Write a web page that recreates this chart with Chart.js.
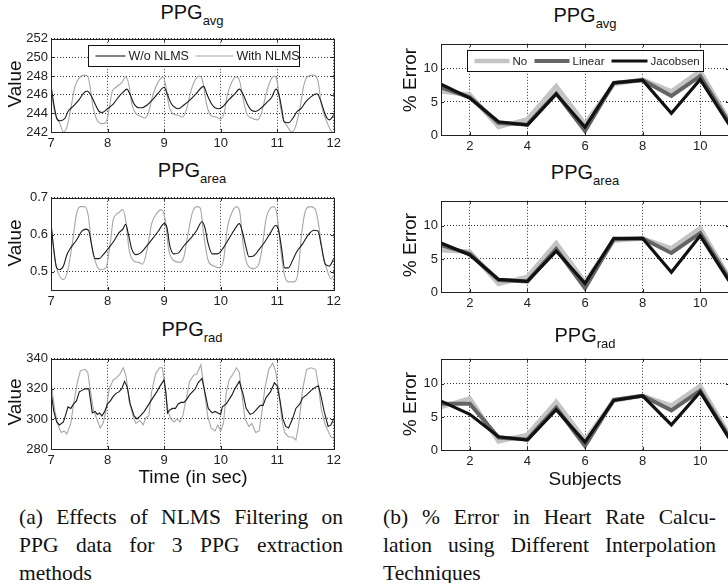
<!DOCTYPE html>
<html lang="en">
<head>
<meta charset="UTF-8">
<title>PPG NLMS / Interpolation</title>
<script src="https://cdn.jsdelivr.net/npm/chart.js@4"></script>
<style>
    html, body { margin: 0; padding: 0; background: #fff; }
    body { width: 728px; height: 583px; overflow: hidden; position: relative;
           font-family: "Liberation Sans", Arial, sans-serif; color: #111; }
    canvas { position: absolute; }
    .ttl { position: absolute; font-size: 20px; line-height: 20px; white-space: nowrap; transform: translateX(-50%); }
    .ttl span { font-size: 13px; position: relative; top: 6px; }
    .ylab { position: absolute; font-size: 19px; line-height: 19px; white-space: nowrap;
            transform: translate(-50%, -50%) rotate(-90deg); }
    .xlab { position: absolute; font-size: 19px; line-height: 19px; white-space: nowrap; transform: translateX(-50%); }
    .cap { position: absolute; font-family: "Liberation Serif", "DejaVu Serif", serif; font-size: 21.5px; color: #111; }
    .cap div { height: 28px; line-height: 28px; white-space: nowrap; text-align: justify; text-align-last: justify; }
    .cap div.last { text-align-last: left; }
</style>
</head>
<body>

<canvas id="cAvg"  width="345" height="126" style="left:0;top:28px"></canvas>
<canvas id="cArea" width="345" height="125" style="left:0;top:187px"></canvas>
<canvas id="cRad"  width="345" height="123" style="left:0;top:348px"></canvas>
<canvas id="eAvg"  width="345" height="124" style="left:390px;top:33px"></canvas>
<canvas id="eArea" width="345" height="124" style="left:390px;top:190px"></canvas>
<canvas id="eRad"  width="345" height="124" style="left:390px;top:348px"></canvas>

<div class="ttl" style="left:192px;top:2px">PPG<span>avg</span></div>
<div class="ttl" style="left:192px;top:160px">PPG<span>area</span></div>
<div class="ttl" style="left:192px;top:319px">PPG<span>rad</span></div>
<div class="ttl" style="left:585px;top:5px">PPG<span>avg</span></div>
<div class="ttl" style="left:585px;top:162px">PPG<span>area</span></div>
<div class="ttl" style="left:585px;top:325px">PPG<span>rad</span></div>

<div class="ylab" style="left:14px;top:84px">Value</div>
<div class="ylab" style="left:14px;top:243px">Value</div>
<div class="ylab" style="left:14px;top:402px">Value</div>
<div class="ylab" style="left:409px;top:80px">% Error</div>
<div class="ylab" style="left:409px;top:245px">% Error</div>
<div class="ylab" style="left:409px;top:404px">% Error</div>

<div class="xlab" style="left:193px;top:467px">Time (in sec)</div>
<div class="xlab" style="left:585px;top:469px">Subjects</div>

<div class="cap" style="left:19px;top:503px;width:324px">
    <div>(a) Effects of NLMS Filtering on</div>
    <div>PPG data for 3 PPG extraction</div>
    <div class="last">methods</div>
</div>
<div class="cap" style="left:383px;top:503px;width:333px">
    <div>(b) % Error in Heart Rate Calcu-</div>
    <div>lation using Different Interpolation</div>
    <div class="last">Techniques</div>
</div>

<script>
// ---- tick values ----
const timeTicks = [7, 8, 9, 10, 11, 12];
const avgTicks = [242, 244, 246, 248, 250, 252];
const areaTicks = [0.5, 0.6, 0.7];
const radTicks = [280, 300, 320, 340];
const subjectTicks = [2, 4, 6, 8, 10];
const errorTicks = [0, 5, 10];

// ---- (a) PPG signals, [time, value] ----
const avgWithout = [[7.0,247],[7.05,245],[7.1,243.5],[7.15,243.2],[7.25,243.5],[7.3,244.2],[7.4,244.8],[7.5,245.5],[7.58,246.2],[7.64,246.4],
    [7.7,246],[7.78,245],[7.85,244.2],[7.9,244.1],[8.0,244.5],[8.1,245],[8.2,245.8],[8.28,246.3],[8.34,246.6],
    [8.4,246],[8.47,245],[8.55,244.6],[8.6,244.6],[8.7,244.9],[8.8,245.5],[8.9,246.2],[9.0,246.8],
    [9.06,246],[9.13,245],[9.2,244.6],[9.25,244.5],[9.35,244.9],[9.45,245.4],[9.55,246],[9.7,246.9],
    [9.76,246],[9.84,245],[9.9,244.6],[9.97,244.5],[10.05,244.8],[10.15,245.5],[10.25,246.1],[10.33,246.6],
    [10.4,246],[10.47,245],[10.55,244.3],[10.62,244.2],[10.72,244.6],[10.82,245.2],[10.9,245.7],[10.98,246.6],
    [11.03,246],[11.08,244.5],[11.12,243.1],[11.2,243.0],[11.28,243.5],[11.35,244.2],[11.42,244.5],[11.5,245.2],[11.6,245.8],[11.7,246.1],
    [11.76,245.5],[11.83,244.2],[11.88,243.5],[11.92,243.3],[12.0,243.8]];
const avgWith = [[7.0,246.5],[7.07,244],[7.15,243],[7.22,242.0],[7.28,242.5],[7.35,244.5],[7.42,246.8],[7.5,247.8],[7.58,248.1],[7.65,248.0],
    [7.7,246.5],[7.75,244.5],[7.82,243.2],[7.9,242.9],[7.97,243.0],[8.03,244.5],[8.08,246.3],[8.15,246.8],[8.25,247.3],[8.32,247.9],
    [8.38,247],[8.43,245],[8.5,244],[8.58,243.7],[8.66,243.5],[8.72,244],[8.78,245.5],[8.85,246.8],[8.93,247.7],[8.98,247.9],
    [9.03,247],[9.08,245],[9.15,244],[9.25,243.8],[9.33,243.6],[9.4,244.5],[9.47,246.3],[9.55,247.6],[9.63,248.0],[9.68,247.5],
    [9.75,245],[9.82,243.8],[9.92,243.6],[10.0,243.4],[10.06,244],[10.12,246],[10.2,247.4],[10.28,247.9],[10.33,247.6],
    [10.4,245.5],[10.46,244],[10.55,243.5],[10.65,243.3],[10.72,244],[10.8,246],[10.88,247.5],[10.95,248.0],[11.0,247.4],
    [11.05,245],[11.1,243.5],[11.18,242.6],[11.25,242.0],[11.32,242.5],[11.4,244.5],[11.47,247],[11.55,248.0],[11.65,248.1],[11.72,247.5],
    [11.78,245],[11.85,243.5],[11.92,242.5],[12.0,241.6]];

const areaWithout = [[7.0,0.63],[7.05,0.56],[7.1,0.51],[7.15,0.505],[7.22,0.515],[7.28,0.545],[7.35,0.565],[7.45,0.585],[7.55,0.61],[7.62,0.615],
    [7.67,0.61],[7.72,0.57],[7.78,0.535],[7.85,0.535],[7.92,0.545],[8.0,0.56],[8.1,0.58],[8.2,0.605],[8.27,0.615],[8.32,0.628],
    [8.37,0.6],[8.43,0.56],[8.5,0.546],[8.58,0.55],[8.67,0.565],[8.8,0.59],[8.9,0.61],[9.0,0.63],
    [9.05,0.62],[9.1,0.57],[9.17,0.548],[9.25,0.55],[9.35,0.57],[9.47,0.59],[9.57,0.61],[9.67,0.635],
    [9.72,0.62],[9.78,0.575],[9.85,0.548],[9.95,0.548],[10.05,0.565],[10.15,0.59],[10.25,0.615],[10.33,0.63],
    [10.38,0.61],[10.45,0.565],[10.5,0.54],[10.58,0.542],[10.68,0.56],[10.78,0.58],[10.88,0.605],[10.97,0.625],
    [11.02,0.615],[11.08,0.56],[11.13,0.51],[11.2,0.51],[11.27,0.53],[11.35,0.555],[11.45,0.575],[11.55,0.6],[11.65,0.612],[11.72,0.61],
    [11.78,0.57],[11.85,0.52],[11.92,0.515],[12.0,0.535]];
const areaWith = [[7.0,0.63],[7.07,0.53],[7.13,0.495],[7.22,0.478],[7.3,0.505],[7.38,0.58],[7.45,0.655],[7.52,0.676],[7.6,0.676],[7.66,0.65],
    [7.72,0.57],[7.8,0.52],[7.88,0.505],[7.97,0.51],[8.05,0.58],[8.1,0.64],[8.2,0.66],[8.27,0.668],
    [8.33,0.63],[8.38,0.56],[8.47,0.528],[8.55,0.525],[8.62,0.52],[8.7,0.56],[8.78,0.63],[8.88,0.66],[8.95,0.668],
    [9.02,0.64],[9.08,0.56],[9.17,0.53],[9.28,0.525],[9.35,0.54],[9.42,0.6],[9.5,0.66],[9.58,0.676],[9.64,0.672],
    [9.7,0.6],[9.78,0.53],[9.88,0.515],[9.98,0.51],[10.05,0.53],[10.12,0.62],[10.2,0.66],[10.28,0.676],[10.34,0.66],
    [10.4,0.57],[10.47,0.52],[10.58,0.508],[10.66,0.515],[10.73,0.56],[10.8,0.64],[10.88,0.672],[10.95,0.676],[11.0,0.65],
    [11.07,0.55],[11.13,0.49],[11.2,0.472],[11.3,0.472],[11.37,0.5],[11.43,0.6],[11.5,0.665],[11.58,0.676],[11.67,0.67],
    [11.73,0.63],[11.8,0.55],[11.88,0.505],[11.95,0.48],[12.0,0.49]];

const radWithout = [[7.0,318],[7.05,305],[7.1,298],[7.15,296],[7.22,298],[7.27,304],[7.3,308],[7.35,307],[7.4,310],[7.45,312],[7.5,318],[7.55,319],[7.6,320],[7.67,320],
    [7.7,312],[7.73,304],[7.78,305],[7.82,303],[7.86,304],[7.9,302],[7.95,305],[8.0,310],[8.05,312],[8.1,315],[8.15,317],[8.2,318],[8.25,320],[8.3,325],
    [8.35,321],[8.4,310],[8.47,302],[8.52,300],[8.58,302],[8.65,305],[8.7,308],[8.75,311],[8.8,314],[8.87,318],[8.93,322],[9.0,326],
    [9.03,318],[9.06,304],[9.1,306],[9.15,307],[9.2,307],[9.25,310],[9.3,311],[9.35,311],[9.4,313],[9.45,316],[9.5,318],[9.55,320],[9.6,324],[9.67,327],
    [9.72,318],[9.78,307],[9.85,304],[9.9,305],[9.95,304],[10.0,303],[10.03,308],[10.1,310],[10.15,313],[10.2,316],[10.25,320],[10.33,325],
    [10.4,316],[10.45,307],[10.52,303],[10.58,304],[10.65,307],[10.7,309],[10.75,309],[10.8,314],[10.88,318],[10.95,324],
    [11.0,322],[11.05,312],[11.1,300],[11.15,295],[11.2,294],[11.27,300],[11.33,307],[11.4,310],[11.45,314],[11.52,316],[11.6,319],[11.67,321],[11.73,322],
    [11.78,314],[11.83,305],[11.9,295],[11.95,296],[12.0,300]];
const radWith = [[7.0,325],[7.07,305],[7.12,296],[7.18,291],[7.23,292],[7.28,290],[7.35,297],[7.4,310],[7.47,325],[7.52,332],[7.6,333],[7.65,331],
    [7.7,318],[7.75,306],[7.82,299],[7.87,294],[7.92,297],[7.97,305],[8.03,320],[8.1,326],[8.15,327],[8.22,330],[8.28,334],
    [8.33,328],[8.38,312],[8.45,302],[8.5,297],[8.57,299],[8.63,296],[8.68,301],[8.73,302],[8.78,318],[8.85,330],[8.92,334],[8.97,334],
    [9.02,320],[9.07,305],[9.12,300],[9.18,298],[9.23,300],[9.28,298],[9.33,302],[9.4,315],[9.45,325],[9.52,329],[9.58,330],[9.65,336],
    [9.7,322],[9.77,302],[9.83,294],[9.9,292],[9.95,296],[10.0,292],[10.05,297],[10.1,318],[10.15,326],[10.22,330],[10.28,334],
    [10.33,331],[10.38,315],[10.43,300],[10.5,295],[10.55,297],[10.62,291],[10.68,292],[10.72,302],[10.78,320],[10.85,333],[10.92,337],
    [10.97,332],[11.03,318],[11.08,300],[11.13,291],[11.2,288],[11.27,288],[11.33,286],[11.38,296],[11.45,320],[11.52,333],[11.6,334],[11.68,333],
    [11.73,322],[11.78,306],[11.85,296],[11.9,292],[11.95,288],[12.0,287]];

// ---- (b) % error per subject ----
const subjects = [1, 2, 3, 4, 5, 6, 7, 8, 9, 10, 11];
const avgNo        = [6.6, 6.1, 1.2, 2.4, 7.4, 1.7, 7.7, 8.4, 6.6, 9.7, 2.2];
const avgLinear    = [7.2, 5.7, 1.8, 1.6, 6.3, 0.6, 7.9, 8.3, 5.9, 8.9, 1.9];
const avgJacobsen  = [7.7, 5.6, 2.0, 1.5, 6.2, 1.2, 7.9, 8.3, 3.3, 8.4, 1.6];
const areaNo       = [6.3, 6.1, 1.2, 2.3, 7.4, 1.5, 7.8, 8.1, 6.6, 9.7, 2.2];
const areaLinear   = [7.1, 5.8, 1.8, 1.6, 6.5, 0.6, 8.0, 8.1, 5.9, 8.9, 2.0];
const areaJacobsen = [7.4, 5.6, 1.9, 1.6, 6.2, 1.3, 8.1, 8.1, 3.0, 8.5, 1.7];
const radNo        = [6.5, 7.8, 1.3, 2.3, 7.3, 1.5, 7.5, 8.2, 6.7, 9.7, 2.3];
const radLinear    = [7.0, 7.0, 1.9, 1.6, 6.4, 0.6, 7.6, 8.2, 6.0, 9.0, 2.0];
const radJacobsen  = [7.4, 5.4, 2.0, 1.5, 6.1, 1.2, 7.5, 8.2, 3.8, 8.8, 1.8];

const pairs = arr => arr.map(p => ({x: p[0], y: p[1]}));
const bySubject = vals => vals.map((v, i) => ({x: subjects[i], y: v}));

// box around the axes, inward tick marks and a boxed legend
const framePlugin = {
    id: 'frame',
    afterDraw(chart, args, opts) {
        const {ctx, chartArea: a, scales} = chart;
        ctx.save();
        ctx.strokeStyle = '#222';
        ctx.lineWidth = 1;
        ctx.beginPath();
        scales.x.ticks.forEach(t => {
            const px = Math.round(scales.x.getPixelForValue(t.value)) + 0.5;
            ctx.moveTo(px, a.bottom); ctx.lineTo(px, a.bottom - 3);
            ctx.moveTo(px, a.top); ctx.lineTo(px, a.top + 3);
        });
        scales.y.ticks.forEach(t => {
            const py = Math.round(scales.y.getPixelForValue(t.value)) + 0.5;
            ctx.moveTo(a.left, py); ctx.lineTo(a.left + 3, py);
            ctx.moveTo(a.right, py); ctx.lineTo(a.right - 3, py);
        });
        ctx.stroke();
        ctx.strokeRect(Math.round(a.left) + 0.5, Math.round(a.top) + 0.5, Math.round(a.width), Math.round(a.height));

        if (opts.legend) {
            const lg = opts.legend;
            const bx = Math.round(a.left + lg.x) + 0.5, by = Math.round(a.top + lg.y) + 0.5;
            ctx.fillStyle = '#fff';
            ctx.fillRect(bx, by, lg.w, lg.h);
            ctx.strokeStyle = '#111';
            ctx.strokeRect(bx, by, lg.w, lg.h);
            const cy = by + lg.h / 2;
            ctx.font = lg.font + 'px "Liberation Sans", Arial, sans-serif';
            ctx.textBaseline = 'middle';
            lg.items.forEach(it => {
                const ds = chart.data.datasets[it.ds];
                ctx.strokeStyle = ds.borderColor;
                ctx.lineWidth = ds.borderWidth;
                ctx.beginPath();
                ctx.moveTo(bx + it.x0, cy); ctx.lineTo(bx + it.x1, cy);
                ctx.stroke();
                ctx.fillStyle = '#222';
                ctx.fillText(ds.label, bx + it.tx, cy + 0.5);
            });
        }
        ctx.restore();
    }
};

function axis(min, max, ticks, isX) {
    return {
        type: 'linear', min: min, max: max,
        afterBuildTicks: s => { s.ticks = ticks.map(v => ({value: v})); },
        afterFit: s => { if (isX) s.height = 22; else s.width = 51; },
        grid: {color: '#333', lineWidth: 1, drawTicks: false},
        border: {display: false, dash: [1, 2]},
        ticks: {color: '#222', font: {size: 13, family: '"Liberation Sans", Arial, sans-serif'},
                padding: isX ? 4 : 3, maxRotation: 0, autoSkip: false}
    };
}

function makeChart(id, datasets, xs, ys, padRight, legend) {
    new Chart(document.getElementById(id), {
        type: 'line',
        data: {datasets: datasets},
        options: {
            responsive: false, animation: false, devicePixelRatio: 1,
            layout: {padding: {top: 8, right: padRight, bottom: 0, left: 0}},
            elements: {point: {radius: 0}},
            plugins: {legend: {display: false}, tooltip: {enabled: false}, frame: {legend: legend}},
            scales: {x: axis(xs[0], xs[1], xs[2], true), y: axis(ys[0], ys[1], ys[2], false)}
        },
        plugins: [framePlugin]
    });
}

// the black trace is drawn over the grey one (higher order = drawn first)
function signalSets(without, withN, smooth) {
    const mode = smooth ? 'monotone' : 'default';
    return [
        {label: 'W/o NLMS', data: pairs(without), borderColor: '#1a1a1a', borderWidth: 1.1,
         cubicInterpolationMode: mode, tension: 0, order: 1},
        {label: 'With NLMS', data: pairs(withN), borderColor: '#a6a6a6', borderWidth: 1.1,
         cubicInterpolationMode: mode, tension: 0, order: 2}
    ];
}

function errorSets(no, lin, jac) {
    return [
        {label: 'No', data: bySubject(no), borderColor: '#c4c4c4', borderWidth: 4.5, tension: 0, order: 3},
        {label: 'Linear', data: bySubject(lin), borderColor: '#646464', borderWidth: 4, tension: 0, order: 2},
        {label: 'Jacobsen', data: bySubject(jac), borderColor: '#111111', borderWidth: 3.2, tension: 0, order: 1}
    ];
}

const sigLegend = {x: 37, y: 6, w: 211, h: 21, font: 12.5,
    items: [{ds: 0, x0: 7, x1: 37, tx: 40}, {ds: 1, x0: 107, x1: 145, tx: 148}]};
const errLegend = {x: 26, y: 6, w: 236, h: 21, font: 11.5,
    items: [{ds: 0, x0: 7, x1: 42, tx: 45}, {ds: 1, x0: 67, x1: 102, tx: 105}, {ds: 2, x0: 144, x1: 180, tx: 183}]};

makeChart('cAvg',  signalSets(avgWithout, avgWith, true),   [7, 12, timeTicks], [242, 252, avgTicks], 11, sigLegend);
makeChart('cArea', signalSets(areaWithout, areaWith, true), [7, 12, timeTicks], [0.45, 0.7, areaTicks], 11, null);
makeChart('cRad',  signalSets(radWithout, radWith, false),  [7, 12, timeTicks], [280, 340, radTicks], 11, null);

makeChart('eAvg',  errorSets(avgNo, avgLinear, avgJacobsen),    [1, 11, subjectTicks], [0, 13.8, errorTicks], 6, errLegend);
makeChart('eArea', errorSets(areaNo, areaLinear, areaJacobsen), [1, 11, subjectTicks], [0, 13.8, errorTicks], 6, null);
makeChart('eRad',  errorSets(radNo, radLinear, radJacobsen),    [1, 11, subjectTicks], [0, 13.8, errorTicks], 6, null);
</script>
</body>
</html>
